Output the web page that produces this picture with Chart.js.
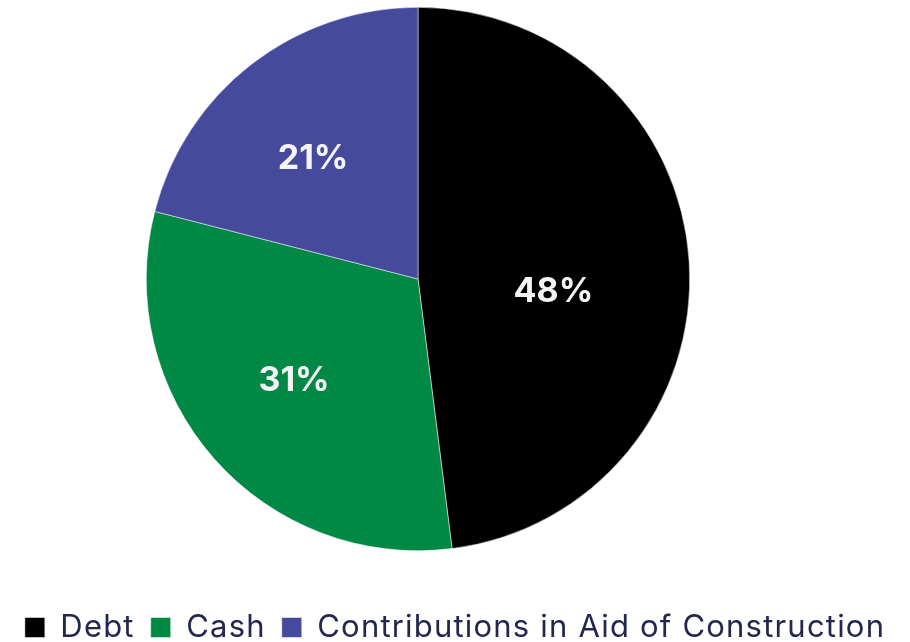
<!DOCTYPE html>
<html>
<head>
<meta charset="utf-8">
<script src="https://cdn.jsdelivr.net/npm/chart.js@4.4.1/dist/chart.umd.min.js"></script>
<style>
  html, body { margin: 0; padding: 0; background: #ffffff; }
  #wrap { width: 910px; height: 642px; position: relative; }
</style>
</head>
<body>
<div id="wrap"><canvas id="c" width="910" height="642"></canvas></div>
<script>
const categories = ["Debt", "Cash", "Contributions in Aid of Construction"];
const shares = [48, 31, 21];
const valueLabels = ["48%", "31%", "21%"];

const sliceColors = ["#000000", "#008845", "#464a9c"];
const labelRadiusFrac = [0.50, 0.586, 0.592];
const labelAngleOffsetDeg = [8.2, 2.5, -2.9];
const PIE_CENTER_X = 418;
const PIE_RADIUS = 272;

const areaPlugin = {
  id: 'pieArea',
  beforeUpdate(chart) { chart.ctx.letterSpacing = '1.2px'; },
  beforeDraw(chart) { chart.ctx.letterSpacing = '1.2px'; },
  afterLayout(chart) {
    const a = chart.chartArea;
    a.left = PIE_CENTER_X - PIE_RADIUS;
    a.right = PIE_CENTER_X + PIE_RADIUS;
    a.bottom = a.top + 2 * PIE_RADIUS;
    a.width = a.right - a.left;
    a.height = a.bottom - a.top;
  }
};

const labelPlugin = {
  id: 'sliceLabels',
  afterDatasetsDraw(chart) {
    const ctx = chart.ctx;
    const meta = chart.getDatasetMeta(0);
    ctx.save();
    ctx.letterSpacing = '0px';
    ctx.font = 'bold 34px Inter';
    ctx.fillStyle = '#f4f4f4';
    ctx.textAlign = 'center';
    ctx.textBaseline = 'alphabetic';
    meta.data.forEach((arc, i) => {
      const p = arc.getProps(['x', 'y', 'startAngle', 'endAngle', 'outerRadius'], true);
      const mid = (p.startAngle + p.endAngle) / 2 + labelAngleOffsetDeg[i] * Math.PI / 180;
      const r = p.outerRadius * labelRadiusFrac[i];
      const x = p.x + Math.cos(mid) * r;
      const y = p.y + Math.sin(mid) * r;
      ctx.fillText(valueLabels[i], x, y + 12.4);
    });
    ctx.restore();
  }
};

new Chart(document.getElementById('c'), {
  type: 'pie',
  data: {
    labels: categories,
    datasets: [{
      data: shares,
      backgroundColor: sliceColors,
      borderColor: '#ffffff',
      borderWidth: 0.5
    }]
  },
  options: {
    responsive: false,
    animation: false,
    layout: { padding: { top: 7, bottom: -11, left: 0, right: 0 } },
    plugins: {
      tooltip: { enabled: false },
      legend: {
        position: 'bottom',
        labels: {
          font: { family: 'Inter', size: 31 },
          color: '#23264f',
          boxWidth: 20,
          boxHeight: 20,
          padding: 16
        }
      }
    }
  },
  plugins: [areaPlugin, labelPlugin]
});
</script>
</body>
</html>
